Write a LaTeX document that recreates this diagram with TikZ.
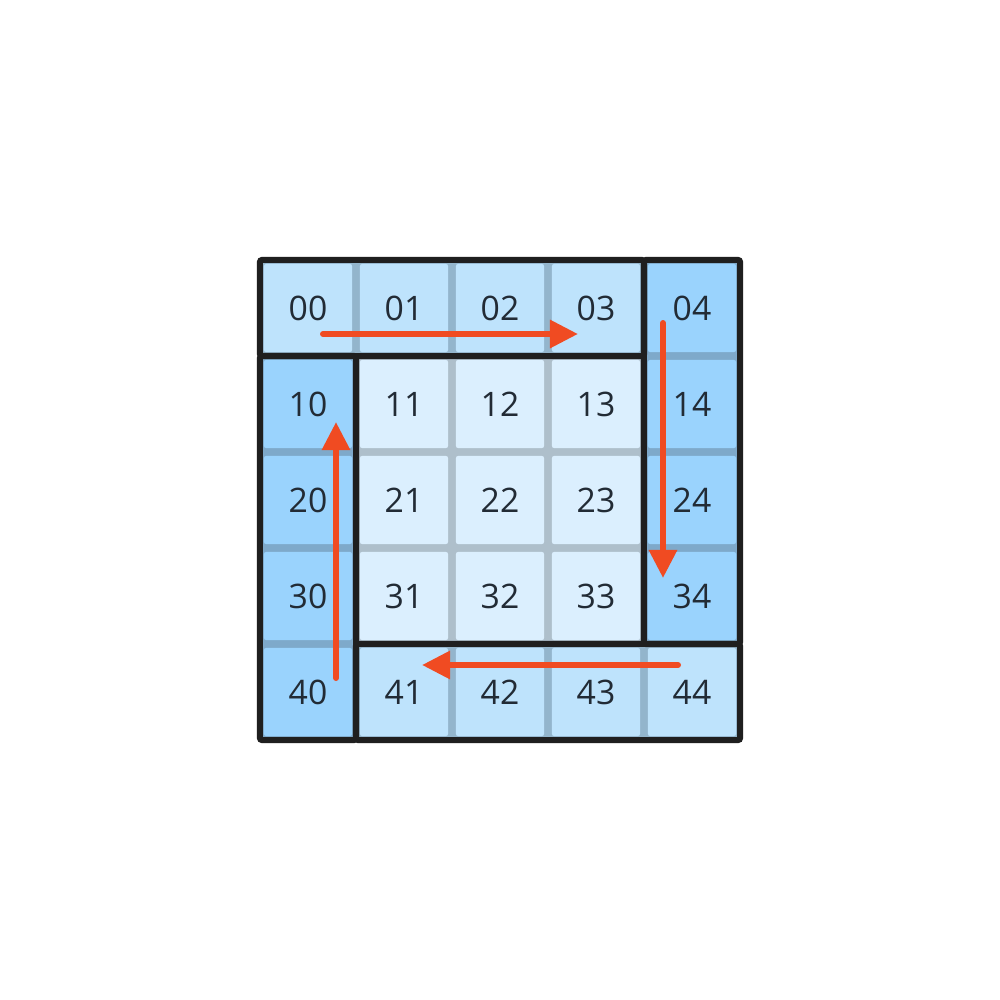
\documentclass[tikz,border=0pt]{standalone}
\usepackage{fontspec}
\setmainfont{Open Sans}
\usetikzlibrary{arrows.meta,calc}
\definecolor{lightcell}{HTML}{BEE3FC}
\definecolor{lightgap}{HTML}{93B5CC}
\definecolor{midcell}{HTML}{9AD3FD}
\definecolor{midgap}{HTML}{7EA9CA}
\definecolor{innercell}{HTML}{DBEFFE}
\definecolor{innergap}{HTML}{AEBFCB}
\definecolor{frame}{HTML}{1F1F1F}
\definecolor{arrowred}{HTML}{F04B22}
\definecolor{txt}{HTML}{222B35}
\tikzset{
  gapsq/.style={draw=none,minimum size={96*0.28453pt},inner sep=0pt,outer sep=0pt},
  cellsq/.style={draw=none,minimum size={88*0.28453pt},inner sep=0pt,rounded corners={2*0.28453pt},
    font=\fontsize{9.6pt}{10pt}\selectfont,text=txt},
  grp/.style={draw=frame,line width={6*0.28453pt},rounded corners={2*0.28453pt}},
  flow/.style={draw=arrowred,line width={6*0.28453pt},line cap=round,
    -{Triangle[width={27*0.28453pt},length={28*0.28453pt}]}},
}
\begin{document}
\begin{tikzpicture}[x=0.01cm,y=-0.01cm]
\useasboundingbox[fill=white] (0,0) rectangle (1000,1000);
\foreach \i in {0,...,4}{
  \foreach \j in {0,...,4}{
    \pgfmathtruncatemacro{\top}{(\i==0 && \j<4) || (\i==4 && \j>0) ? 1 : 0}
    \pgfmathtruncatemacro{\side}{(\j==4 && \i<4) || (\j==0 && \i>0) ? 1 : 0}
    \ifnum\top=1
      \def\cc{lightcell}\def\gc{lightgap}
    \else\ifnum\side=1
      \def\cc{midcell}\def\gc{midgap}
    \else
      \def\cc{innercell}\def\gc{innergap}
    \fi\fi
    \node[gapsq,fill=\gc] (g\i\j) at ({308+96*\j},{308+96*\i}) {};
    \node[cellsq,fill=\cc] (c\i\j) at ({308+96*\j},{308+96*\i}) {\i\j};
  }
}
% group frames
\draw[grp] (g00.north west) rectangle (g03.south east);
\draw[grp] (g04.north west) rectangle (g34.south east);
\draw[grp] (g41.north west) rectangle (g44.south east);
\draw[grp] (g10.north west) rectangle (g40.south east);
% arrow end points
\coordinate (a0) at ($(c00.center)+(15,26)$);
\coordinate (a1) at ($(c03.center)+(-18,26)$);
\coordinate (b0) at ($(c04.center)+(-29,15)$);
\coordinate (b1) at ($(c34.center)+(-29,-18)$);
\coordinate (d0) at ($(c44.center)+(-14,-27)$);
\coordinate (d1) at ($(c41.center)+(18,-27)$);
\coordinate (e0) at ($(c40.center)+(28,-14)$);
\coordinate (e1) at ($(c10.center)+(28,18)$);
\draw[flow] (a0) -- (a1);
\draw[flow] (b0) -- (b1);
\draw[flow] (d0) -- (d1);
\draw[flow] (e0) -- (e1);
\end{tikzpicture}
\end{document}
